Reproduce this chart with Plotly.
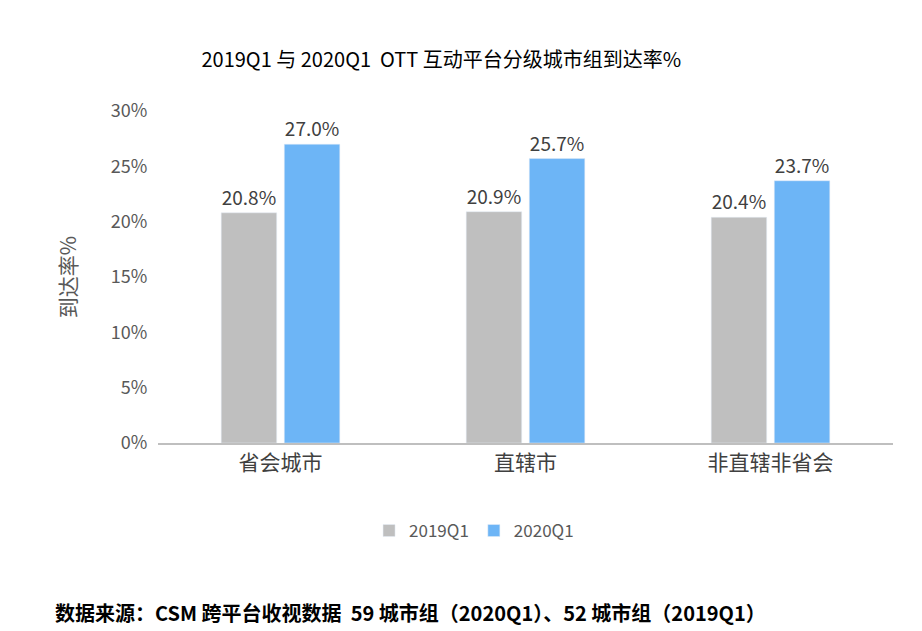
import plotly.graph_objects as go

categories = ["省会城市", "直辖市", "非直辖非省会"]
v2019 = [0.208, 0.209, 0.204]
v2020 = [0.270, 0.257, 0.237]
yticks = [0, 0.05, 0.10, 0.15, 0.20, 0.25, 0.30]
ytext = ["0%", "5%", "10%", "15%", "20%", "25%", "30%"]

font = "Noto Sans CJK SC"
fig = go.Figure()
fig.add_bar(x=categories, y=v2019, name="2019Q1", marker_color="#BFBFBF",
            text=[f"{v*100:.1f}%" for v in v2019], textposition="outside",
            textfont=dict(size=19, color="#404040"), cliponaxis=False)
fig.add_bar(x=categories, y=v2020, name="2020Q1", marker_color="#6DB5F6",
            text=[f"{v*100:.1f}%" for v in v2020], textposition="outside",
            textfont=dict(size=19, color="#404040"), cliponaxis=False)
fig.update_layout(
    width=922, height=631, plot_bgcolor="white", paper_bgcolor="white",
    font=dict(family=font, color="#404040"),
    barmode="group", bargap=0.485, bargroupgap=0.12,
    margin=dict(l=150, r=37, t=103, b=196),
    title=dict(text="2019Q1 与 2020Q1  OTT 互动平台分级城市组到达率%", x=0.47, xanchor="center",
               y=0.928, font=dict(size=20, color="#000000")),
    yaxis=dict(range=[0, 0.30], tickvals=yticks, ticktext=ytext, showgrid=False,
               tickfont=dict(size=18, color="#595959"), ticks="outside", ticklen=6,
               tickcolor="white", zeroline=False,
               title=dict(text="到达率%", font=dict(size=21, color="#595959"), standoff=28)),
    xaxis=dict(showline=True, linecolor="#BFBFBF", linewidth=1.5, ticks="",
               tickfont=dict(size=21, color="#404040")),
    legend=dict(orientation="h", x=0.43, xanchor="center", y=-0.265, yanchor="middle",
                font=dict(size=17, color="#595959")),
    annotations=[dict(text="<b>数据来源：CSM 跨平台收视数据  59 城市组（2020Q1）、52 城市组（2019Q1）</b>",
                      xref="paper", yref="paper", x=-0.143, xanchor="left", y=-0.51, yanchor="middle",
                      showarrow=False, font=dict(size=20, color="#000000"))],
)
fig.write_html("out.html")
